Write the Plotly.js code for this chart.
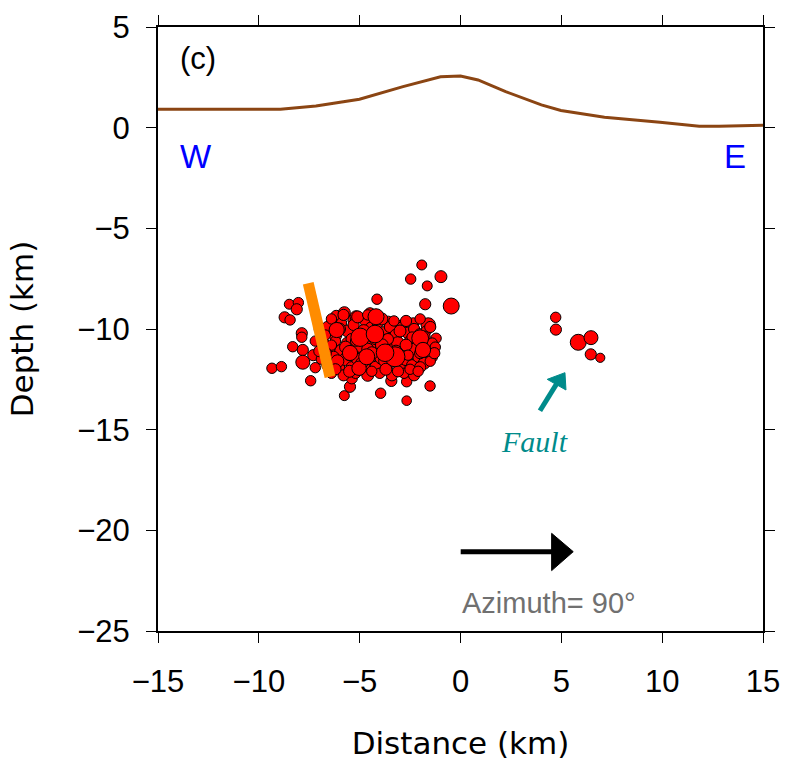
<!DOCTYPE html>
<html><head><meta charset="utf-8">
<script src="https://cdn.plot.ly/plotly-3.0.1.min.js"></script>
<style>html,body{margin:0;padding:0;background:#fff}#plot{width:785px;height:763px}</style>
</head><body><div id="plot"></div>
<script>
// Topography profile (km)
const topoX = [-15, -8.93, -7.17, -5.01, -2.85, -0.99, 0, 0.87, 2.24, 4.01, 4.98, 7.14, 9.89, 11.84, 12.82, 15];
const topoY = [0.91, 0.91, 1.08, 1.41, 2.04, 2.53, 2.57, 2.37, 1.79, 1.13, 0.85, 0.52, 0.27, 0.07, 0.07, 0.12];

// Hypocentres: distance (km), depth (km), magnitude
const eqX = [
 -1.92,-2.47,-0.97,-1.65,-1.75,-0.46,-4.14,-8.49,-8.04,-8.12,-8.72,-8.45,-8.32,-7.87,-7.87,-7.82,-7.82,-9.35,-8.88,-7.43,-7.20,-5.76,-5.48,-5.39,-3.96,-3.43,-2.67,-2.67,-1.51,-1.21,-1.60,-2.34,
 4.72,4.73,5.84,6.47,6.46,6.93,
 -6.16,-5.76,-5.31,-5.18,-4.49,-3.58,-3.05,-6.14,-6.22,-7.2,-7.3,-7.0,
 -6.6,-6.2,-5.9,-5.6,-5.3,-5.0,-4.7,-4.4,-4.1,-3.8,-3.5,-3.2,-2.9,-2.6,-2.3,-2.0,-1.7,
 -6.8,-6.5,-6.2,-5.9,-5.6,-5.3,-5.0,-4.7,-4.3,-4.0,-3.7,-3.4,-3.1,-2.8,-2.5,-2.2,-1.9,-1.6,
 -6.9,-6.6,-6.3,-6.0,-5.7,-5.4,-5.1,-4.8,-4.5,-4.2,-3.9,-3.6,-3.3,-3.0,-2.7,-2.4,-2.1,-1.8,
 -6.4,-5.8,-5.2,-4.6,-4.0,-3.4,-2.8,-2.3,
 -6.4,-5.8,-5.1,-4.6,-3.9,-3.3,-2.7,-2.0,-1.5,
 -6.7,-6.0,-5.4,-4.8,-4.2,-3.6,-3.0,-2.4,-1.8,-1.4,
 -7.0,-6.4,-5.7,-5.2,-4.6,-3.9,-3.3,-2.7,-2.0,-1.4,
 -6.7,-6.1,-5.5,-4.9,-4.4,-3.8,-3.2,-2.6,-2.0,-1.5,
 -6.2,-5.5,-5.0,-4.4,-3.7,-3.1,-2.5,-2.1,
 -1.25,-1.3,
 -4.98,-4.24,-3.25,-3.74,-5.03,-2.0,-1.86,-4.65,-5.48,-6.14,-4.19
];
const eqY = [
 -6.82,-7.52,-7.40,-7.86,-8.77,-8.86,-8.52,-8.77,-8.69,-9.02,-9.42,-9.55,-10.88,-10.21,-10.41,-11.04,-11.65,-11.95,-11.87,-12.57,-11.92,-13.31,-12.87,-12.45,-13.19,-12.58,-13.56,-12.62,-12.83,-10.46,-9.80,-9.72,
 -9.42,-10.03,-10.66,-10.43,-11.26,-11.43,
 -9.35,-9.19,-9.55,-9.39,-9.22,-9.64,-9.85,-9.85,-10.05,-10.6,-11.3,-10.0,
 -9.9,-10.3,-9.7,-10.1,-9.8,-10.4,-9.6,-10.0,-9.7,-10.2,-9.9,-10.3,-9.9,-10.2,-10.0,-10.3,-10.1,
 -10.7,-11.0,-10.6,-11.1,-10.7,-11.2,-10.8,-11.3,-10.7,-11.1,-10.6,-11.0,-10.7,-11.1,-10.6,-11.0,-10.7,-11.1,
 -11.5,-11.8,-11.4,-11.9,-11.5,-11.9,-11.5,-11.9,-11.5,-11.9,-11.4,-11.8,-11.4,-11.9,-11.5,-11.8,-11.4,-11.7,
 -12.2,-12.3,-12.2,-12.3,-12.2,-12.3,-12.2,-12.3,
 -9.5,-9.3,-9.4,-9.3,-9.5,-9.6,-9.6,-9.5,-9.9,
 -10.3,-10.0,-10.5,-10.1,-10.4,-10.5,-10.1,-10.4,-10.4,-10.7,
 -11.1,-10.8,-10.9,-10.6,-11.0,-10.8,-11.3,-10.8,-11.2,-11.4,
 -11.2,-11.6,-11.3,-11.7,-11.2,-11.6,-11.1,-11.3,-11.9,-11.6,
 -12.0,-12.1,-12.0,-12.1,-12.0,-12.1,-12.0,-12.1,
 -10.9,-11.2,
 -10.41,-10.25,-11.38,-11.18,-11.95,-10.46,-11.04,-11.38,-11.19,-10.05,-9.39
];
const eqMag = [
 1.5,1.6,2.0,1.5,1.8,3.0,1.6,1.5,1.6,1.8,1.8,1.6,1.6,1.8,1.6,1.8,2.5,1.6,1.6,1.6,1.6,1.5,1.8,1.8,1.6,1.8,1.4,1.6,1.6,1.6,2.6,1.8,
 1.6,1.8,3.0,2.5,1.8,1.3,
 1.8,2.0,1.8,2.0,1.8,1.8,1.8,2.0,1.8,1.6,1.8,1.6,
 1.8,2.2,1.6,2.0,1.8,2.4,2.0,2.6,1.8,2.2,1.8,2.0,1.6,2.0,1.8,2.2,1.6,
 1.8,2.0,1.6,2.4,2.0,1.8,2.6,2.2,3.2,2.0,2.4,1.8,2.2,2.0,1.8,2.4,1.8,1.6,
 1.6,1.8,2.0,1.6,2.2,1.8,2.0,2.4,1.8,2.0,2.6,1.8,2.0,1.6,2.2,1.8,1.6,2.0,
 1.6,1.8,1.6,2.0,1.6,1.8,1.6,1.8,
 1.6,1.8,2.0,1.6,2.0,1.6,1.8,1.6,1.8,
 1.6,2.0,1.8,2.2,2.8,1.8,2.0,1.6,2.0,1.6,
 1.8,1.6,2.0,1.6,2.0,2.2,1.8,2.0,1.8,1.6,
 2.0,2.2,1.8,2.0,2.2,1.6,2.0,1.6,1.8,1.6,
 1.8,2.0,1.8,1.6,2.0,1.8,1.6,1.6,
 1.6,1.8,
 3.6,3.4,4.0,3.4,2.6,3.2,2.8,3.0,2.8,2.8,3.0
];

const FONT = 'Liberation Sans, Arial, sans-serif';
const TFONT = 'DejaVu Sans, sans-serif';
const sizes = eqMag.map(m => 4 + 4 * m);

const traces = [
 {x: topoX, y: topoY, type: 'scatter', mode: 'lines', line: {color: '#8B4513', width: 3}, hoverinfo: 'skip'},
 {x: eqX, y: eqY, type: 'scatter', mode: 'markers',
  marker: {color: '#FF0000', size: sizes, line: {color: '#000000', width: 1}, opacity: 1}}
];

const layout = {
 width: 785, height: 763,
 margin: {l: 158, r: 22, t: 27, b: 132},
 paper_bgcolor: '#ffffff', plot_bgcolor: '#ffffff',
 showlegend: false,
 font: {family: FONT, color: '#000'},
 xaxis: {range: [-15, 15], dtick: 5, tick0: -15, showgrid: false, zeroline: false,
  showline: true, linecolor: '#000', linewidth: 2, mirror: 'allticks',
  ticks: 'outside', ticklen: 10, tickwidth: 1, tickcolor: '#000', ticklabelstandoff: 12,
  tickfont: {size: 31, family: FONT},
  title: {text: 'Distance (km)', font: {size: 31, family: TFONT}, standoff: 34}},
 yaxis: {range: [-25, 5], dtick: 5, tick0: 5, showgrid: false, zeroline: false,
  showline: true, linecolor: '#000', linewidth: 2, mirror: 'allticks',
  ticks: 'outside', ticklen: 10, tickwidth: 1, tickcolor: '#000', ticklabelstandoff: 10,
  tickfont: {size: 31, family: FONT},
  title: {text: 'Depth (km)', font: {size: 31, family: TFONT}, standoff: 34}},
 shapes: [
  {type: 'line', xref: 'x', yref: 'y', x0: -7.55, y0: -7.73, x1: -6.47, y1: -12.37,
   line: {color: '#FF8C00', width: 11}, layer: 'above'},
  {type: 'line', xref: 'x', yref: 'y', x0: 3.94, y0: -14.06, x1: 4.78, y1: -12.7,
   line: {color: '#008B8B', width: 5}, layer: 'above'},
  {type: 'path', xref: 'x', yref: 'y', path: 'M 4.30 -12.50 L 5.18 -12.17 L 5.23 -13.03 Z',
   fillcolor: '#008B8B', line: {color: '#008B8B', width: 1}, layer: 'above'},
  {type: 'line', xref: 'x', yref: 'y', x0: 0.01, y0: -21.06, x1: 4.6, y1: -21.06,
   line: {color: '#000', width: 5}, layer: 'above'},
  {type: 'path', xref: 'x', yref: 'y', path: 'M 4.52 -20.15 L 5.59 -21.06 L 4.52 -22.0 Z',
   fillcolor: '#000', line: {color: '#000', width: 1}, layer: 'above'}
 ],
 annotations: [
  {x: -13.01, y: 3.46, xref: 'x', yref: 'y', text: '(c)', showarrow: false,
   font: {size: 31, family: FONT, color: '#000'}},
  {x: -13.11, y: -1.41, xref: 'x', yref: 'y', text: 'W', showarrow: false,
   font: {size: 33, family: FONT, color: '#0000FF'}},
  {x: 13.61, y: -1.41, xref: 'x', yref: 'y', text: 'E', showarrow: false,
   font: {size: 33, family: FONT, color: '#0000FF'}},
  {x: 3.69, y: -15.57, xref: 'x', yref: 'y', text: '<i>Fault</i>', showarrow: false,
   font: {size: 30, family: 'Liberation Serif, DejaVu Serif, serif', color: '#008B8B'}},
  {x: 4.39, y: -23.61, xref: 'x', yref: 'y', text: 'Azimuth= 90°', showarrow: false,
   font: {size: 29, family: FONT, color: '#707070'}}
 ]
};

Plotly.newPlot('plot', traces, layout, {displayModeBar: false, staticPlot: true});
</script>
</body></html>
